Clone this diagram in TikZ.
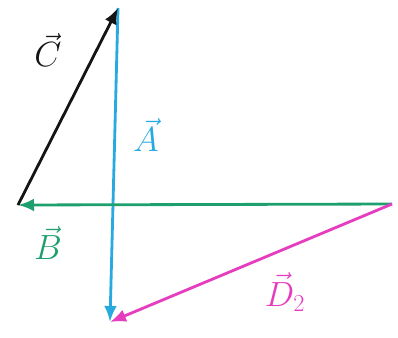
\documentclass[tikz,border=0pt]{standalone}
\usepackage{amsmath,amssymb}
\usepackage{tikz}
\usetikzlibrary{arrows.meta,positioning,calc}
\usepackage{xcolor}
\definecolor{vecblue}{RGB}{40,170,225}
\definecolor{vecgreen}{RGB}{30,160,110}
\definecolor{vecpink}{RGB}{230,60,190}
\definecolor{vecblack}{RGB}{20,20,20}

\begin{document}
\begin{tikzpicture}[x=0.025cm, y=-0.025cm,
    vec/.style={-{Latex[length=4mm, width=3.2mm]}, line width=2pt},
    veclabel/.style={font=\fontsize{24}{26}\selectfont, inner sep=1pt}
]
\useasboundingbox (0,0) rectangle (398,337);

\coordinate (top)    at (118,8);
\coordinate (left)   at (18,205);
\coordinate (right)  at (392,204);
\coordinate (bottom) at (110,322);

\draw[vec, vecblue]  (top) -- (bottom);
\draw[vec, vecgreen] (right) -- (left);
\draw[vec, vecblack] (left) -- (top);
\draw[vec, vecpink]  (right) -- (bottom);

\node[veclabel, text=vecblack] (labC) at (48,50)   {$\vec{C}$};
\node[veclabel, text=vecblue]  (labA) at (146,135) {$\vec{A}$};
\node[veclabel, text=vecgreen] (labB) at (48,243)  {$\vec{B}$};
\node[veclabel, text=vecpink]  (labD) at (285,292) {$\vec{D}_2$};
\end{tikzpicture}
\end{document}
